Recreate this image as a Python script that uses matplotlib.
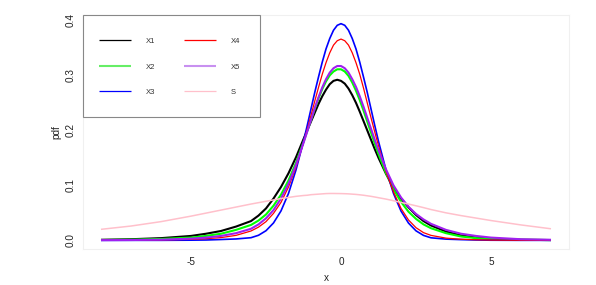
import matplotlib
matplotlib.use("Agg")
import matplotlib.pyplot as plt
from matplotlib.lines import Line2D
from matplotlib.patches import Rectangle

plt.rcParams['font.family'] = ['Liberation Sans', 'DejaVu Sans']

# grid of x positions where the curves were read
x_grid = [-8, -7, -6, -5, -4.5, -4, -3.5, -3, -2.75, -2.5, -2.25, -2, -1.75, -1.5, -1.25,
          -1.125, -1, -0.875, -0.75, -0.625, -0.5, -0.375, -0.25, -0.125, 0,
          0.125, 0.25, 0.375, 0.5, 0.625, 0.75, 0.875, 1, 1.125,
          1.25, 1.5, 1.75, 2, 2.25, 2.5, 2.75, 3, 3.5, 4, 4.5, 5, 6, 7]

x1 = [0.001, 0.002, 0.004, 0.008, 0.012, 0.017, 0.025, 0.035, 0.045, 0.058, 0.076, 0.097, 0.122, 0.151, 0.184,
      0.200, 0.216, 0.232, 0.248, 0.262, 0.274, 0.284, 0.290, 0.292, 0.290,
      0.285, 0.276, 0.264, 0.250, 0.234, 0.217, 0.200, 0.183, 0.166,
      0.150, 0.121, 0.096, 0.076, 0.060, 0.046, 0.035, 0.027, 0.016, 0.009, 0.005, 0.003, 0.001, 0.0005]

x2 = [0.0006, 0.0012, 0.0025, 0.005, 0.008, 0.012, 0.019, 0.028, 0.036, 0.047, 0.063, 0.083, 0.109, 0.141, 0.179,
      0.199, 0.219, 0.239, 0.258, 0.275, 0.289, 0.300, 0.307, 0.311, 0.311,
      0.307, 0.299, 0.287, 0.272, 0.255, 0.236, 0.216, 0.196, 0.176,
      0.157, 0.122, 0.093, 0.070, 0.052, 0.039, 0.029, 0.022, 0.013, 0.007, 0.004, 0.0025, 0.001, 0.0005]

x3 = [0.0, 0.0, 0.0, 0.0003, 0.0006, 0.0015, 0.0025, 0.0048, 0.0092, 0.0175, 0.0316, 0.0535, 0.0853, 0.128, 0.180,
      0.209, 0.239, 0.269, 0.297, 0.324, 0.348, 0.367, 0.382, 0.391, 0.394,
      0.391, 0.382, 0.367, 0.348, 0.324, 0.297, 0.269, 0.239, 0.209,
      0.180, 0.128, 0.0853, 0.0533, 0.0314, 0.0173, 0.0090, 0.0046, 0.0022, 0.0013, 0.0006, 0.0002, 0.0, 0.0]

x4 = [0.0002, 0.0004, 0.0008, 0.0018, 0.003, 0.005, 0.009, 0.017, 0.024, 0.034, 0.049, 0.069, 0.097, 0.133, 0.178,
      0.202, 0.227, 0.253, 0.278, 0.302, 0.323, 0.341, 0.355, 0.363, 0.366,
      0.363, 0.355, 0.341, 0.323, 0.302, 0.277, 0.250, 0.223, 0.197,
      0.172, 0.125, 0.088, 0.058, 0.037, 0.023, 0.014, 0.009, 0.004, 0.002, 0.001, 0.0005, 0.0002, 0.0001]

x5 = [0.0003, 0.0006, 0.0012, 0.003, 0.005, 0.008, 0.013, 0.021, 0.029, 0.040, 0.055, 0.076, 0.103, 0.137, 0.177,
      0.198, 0.219, 0.240, 0.260, 0.278, 0.293, 0.305, 0.313, 0.317, 0.317,
      0.313, 0.305, 0.293, 0.279, 0.262, 0.243, 0.223, 0.203, 0.183,
      0.164, 0.129, 0.100, 0.078, 0.061, 0.048, 0.038, 0.030, 0.019, 0.012, 0.008, 0.005, 0.002, 0.001]

s = [0.020, 0.026, 0.034, 0.044, 0.0495, 0.055, 0.0605, 0.066, 0.0685, 0.071, 0.0735, 0.076, 0.078, 0.080, 0.0815,
     0.082, 0.083, 0.0835, 0.084, 0.0845, 0.085, 0.0852, 0.0852, 0.0851, 0.085,
     0.0848, 0.0845, 0.084, 0.0835, 0.0828, 0.082, 0.081, 0.080, 0.0788,
     0.0775, 0.075, 0.072, 0.069, 0.066, 0.0628, 0.0595, 0.056, 0.050, 0.045, 0.0405, 0.036, 0.028, 0.021]

series_names = ["X1", "X2", "X3", "X4", "X5", "S"]
series_values = [x1, x2, x3, x4, x5, s]
series_colors = ["#000000", "#00ff00", "#0000ff", "#ff0000", "#a020f0", "#ffc0cb"]
series_widths = [1.5, 1.5, 1.2, 0.9, 1.5, 1.1]
legend_colors = ["#000000", "#66ee66", "#0000ff", "#ff0000", "#c890f0", "#ffc0cb"]
legend_widths = [0.9, 1.5, 0.9, 0.9, 1.5, 0.9]

x_ticks = [-5, 0, 5]
y_ticks = [0.0, 0.1, 0.2, 0.3, 0.4]

W, H = 596, 285
fig = plt.figure(figsize=(W / 100, H / 100), dpi=100)
ax = fig.add_axes([83 / W, 1 - 249 / H, (569 - 83) / W, (249 - 15) / H])

for name, vals, col, lw in zip(series_names, series_values, series_colors, series_widths):
    ax.plot(x_grid, vals, color=col, lw=lw, label=name, solid_capstyle='butt')

ax.margins(x=0.04, y=0.04)
ax.set_xticks(x_ticks)
ax.set_xticklabels([f"{t:g}" for t in x_ticks])
ax.set_yticks(y_ticks)
ax.set_yticklabels([f"{t:.1f}" for t in y_ticks], rotation=90, va='center')
ax.tick_params(length=0, labelsize=7.2, labelcolor='#222222')
ax.tick_params(axis='x', pad=6)
ax.tick_params(axis='y', pad=5)
for sp in ax.spines.values():
    sp.set_color('#f0f0f0')
    sp.set_linewidth(0.8)

ax.set_xlabel("x", fontsize=7.2, color='#222222', labelpad=4)
ax.set_ylabel("pdf", fontsize=7.2, color='#222222', labelpad=3)

# legend box (drawn in figure pixel layout, two columns)
def fx(px):
    return px / W

def fy(py):
    return 1 - py / H

fig.add_artist(Rectangle((fx(83), fy(117)), fx(260) - fx(83), fy(14.5) - fy(117),
                         transform=fig.transFigure, facecolor='white',
                         edgecolor='#888888', lw=0.8, zorder=5))
col_line_x = [(99, 131), (184, 216)]
col_text_x = [146, 231]
row_y = [40.3, 66, 91]
for i, (name, col, lw) in enumerate(zip(series_names, legend_colors, legend_widths)):
    c, r = divmod(i, 3)
    x0, x1_ = col_line_x[c]
    y = row_y[r]
    fig.add_artist(Line2D([fx(x0), fx(x1_)], [fy(y), fy(y)], transform=fig.transFigure,
                          color=col, lw=lw, solid_capstyle='butt', zorder=6))
    fig.text(fx(col_text_x[c]), fy(y), name, fontsize=5.5, color='#333333',
             ha='left', va='center_baseline', zorder=6)

fig.savefig("out.png", dpi=100)
